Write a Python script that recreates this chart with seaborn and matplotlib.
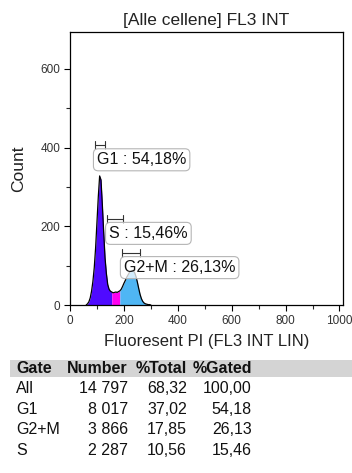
import matplotlib
matplotlib.use("Agg")
import matplotlib.pyplot as plt
import matplotlib.patches as mpatches
from matplotlib.ticker import MultipleLocator
import numpy as np
import pandas as pd
import seaborn as sns

# ---- data ----
channel = [60, 65, 70, 75, 80, 85, 90, 95, 100, 105, 110, 115, 120, 125, 130,
           135, 140, 145, 150, 155, 160, 165, 170, 175, 180, 185, 190, 195,
           200, 205, 210, 215, 220, 225, 230, 235, 240, 245, 250, 255, 260,
           265, 270, 275, 280, 285, 290, 295, 300]
count = [0, 3, 8, 18, 35, 60, 95, 145, 210, 275, 328, 318, 255, 185, 120,
         80, 52, 40, 35, 33, 31, 32, 33, 32, 34, 36, 40, 47,
         55, 62, 70, 76, 82, 86, 88, 87, 82, 72, 58, 42, 27,
         16, 9, 5, 3, 2, 1, 1, 0]

gate_names = ["G1", "S", "G2+M"]
gate_ranges = [(60, 155), (155, 185), (185, 300)]
gate_colors = ["#4f0aff", "#ff00f0", "#4fb6f4"]
gate_pct = ["54,18%", "15,46%", "26,13%"]
bracket_x = [(93, 130), (137, 197), (193, 260)]
bracket_y = [407, 219, 132]
label_xy = [(100, 369), (145, 182), (200, 95)]

table_header = ["Gate", "Number", "%Total", "%Gated"]
table_gate = ["All", "G1", "G2+M", "S"]
table_number = ["14 797", "8 017", "3 866", "2 287"]
table_total = ["68,32", "37,02", "17,85", "10,56"]
table_gated = ["100,00", "54,18", "26,13", "15,46"]

title = "[Alle cellene] FL3 INT"
xlabel = "Fluoresent PI (FL3 INT LIN)"
ylabel = "Count"

# ---- figure ----
sns.set_theme(style="ticks")
plt.rcParams["font.family"] = ["Liberation Sans", "DejaVu Sans"]
W, H = 352, 473
fig = plt.figure(figsize=(W / 100, H / 100), dpi=100)
ax = fig.add_axes([70 / W, 1 - 305 / H, (343 - 70) / W, (305 - 31.5) / H])

df = pd.DataFrame({"channel": channel, "count": count})
x = np.array(channel, dtype=float)
y = np.array(count, dtype=float)
for (lo, hi), col in zip(gate_ranges, gate_colors):
    m = (x >= lo) & (x <= hi)
    ax.fill_between(x[m], 0, y[m], color=col, linewidth=0)
sns.lineplot(data=df, x="channel", y="count", ax=ax, color="black", linewidth=0.9)

ax.set_xlim(0, 1013)
ax.set_ylim(0, 695)
ax.xaxis.set_major_locator(MultipleLocator(200))
ax.xaxis.set_minor_locator(MultipleLocator(100))
ax.yaxis.set_major_locator(MultipleLocator(200))
ax.yaxis.set_minor_locator(MultipleLocator(100))
ax.tick_params(which="major", length=4, width=0.8, labelsize=8.5, colors="black",
               labelcolor="#333333", pad=3)
ax.tick_params(which="minor", length=3, width=0.8)
for s in ax.spines.values():
    s.set_color("black")
    s.set_linewidth(0.9)
ax.set_title(title, fontsize=12.5, color="#222222", pad=5)
ax.set_xlabel(xlabel, fontsize=12, color="#222222", labelpad=5)
ax.set_ylabel(ylabel, fontsize=12.5, color="#222222", labelpad=10)

# gate markers and labels
for name, pct, (bx0, bx1), by, (lx, ly) in zip(gate_names, gate_pct, bracket_x, bracket_y, label_xy):
    ax.plot([bx0, bx1], [by, by], color="#333333", lw=0.8)
    ax.plot([bx0, bx0], [by - 10, by + 10], color="#333333", lw=0.8)
    ax.plot([bx1, bx1], [by - 10, by + 10], color="#333333", lw=0.8)
    ax.text(lx, ly, f"{name} : {pct}", fontsize=11.5, ha="left", va="center",
            color="#111111",
            bbox=dict(boxstyle="round,pad=0.22,rounding_size=0.3",
                      fc=(1, 1, 1, 0.75), ec="#b5b5b5", lw=0.8))

# statistics table
fig.add_artist(mpatches.Rectangle((10 / W, 1 - 377 / H), 1 - 10 / W, 17 / H,
                                  transform=fig.transFigure, color="#d4d4d4", lw=0))
col_x = [16, 128, 187, 252]
col_ha = ["left", "right", "right", "right"]
hy = 1 - 368 / H
for cx, ha, t in zip(col_x, col_ha, table_header):
    fig.text(cx / W, hy, t, fontsize=11.5, fontweight="bold", ha=ha, va="center",
             color="#111111")
row_y = [388.5, 409, 429.5, 450]
for i, ry in enumerate(row_y):
    vals = [table_gate[i], table_number[i], table_total[i], table_gated[i]]
    for cx, ha, t in zip(col_x, col_ha, vals):
        fig.text(cx / W, 1 - ry / H, t, fontsize=11.5, ha=ha, va="center",
                 color="#111111")

fig.savefig("out.png", dpi=100)
